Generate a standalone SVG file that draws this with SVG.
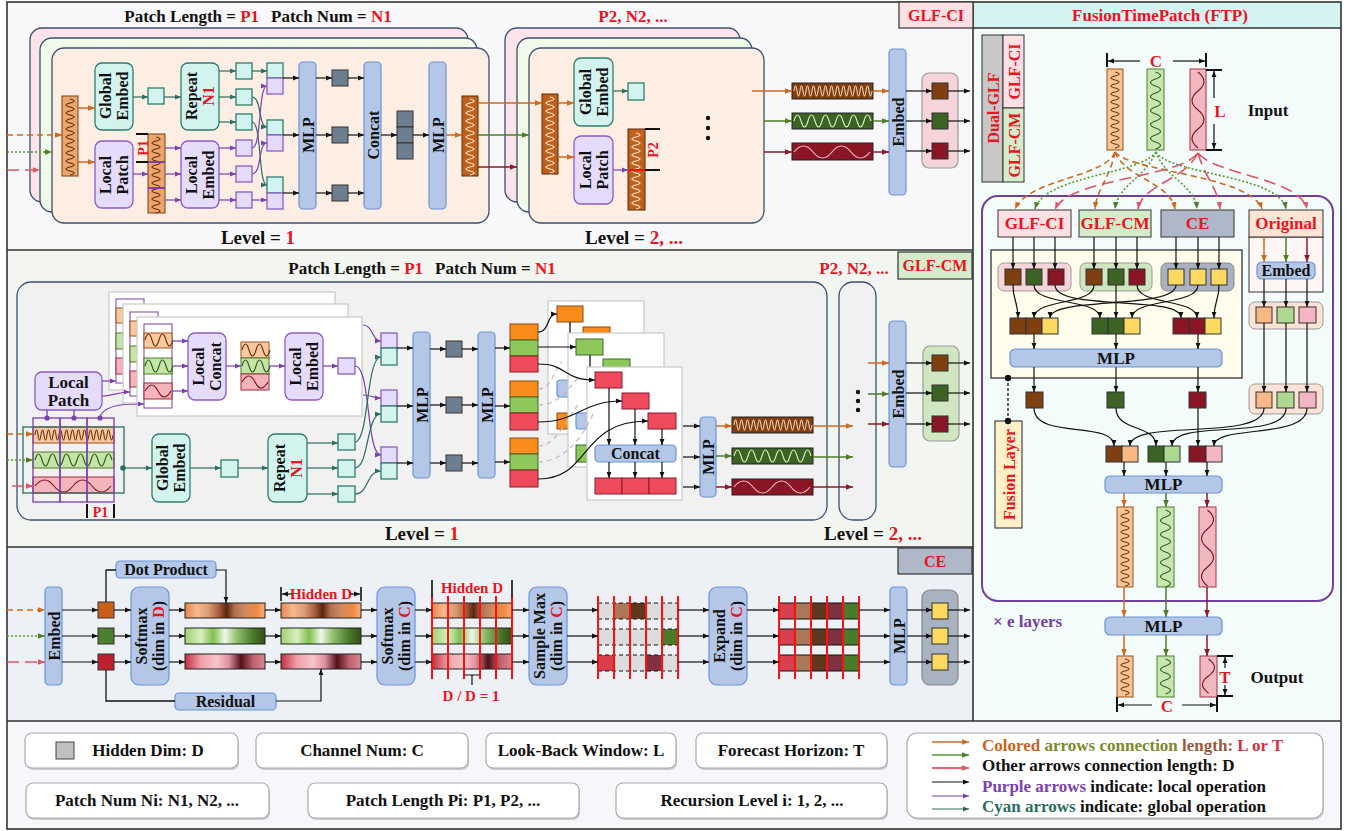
<svg xmlns="http://www.w3.org/2000/svg" width="1350" height="831" viewBox="0 0 1350 831">
<style>
text{font-family:"Liberation Serif","Times New Roman",serif;font-weight:bold;fill:#111;font-size:16px}
.m{text-anchor:middle}
.r{fill:#e8141e}
.s14{font-size:14px}
.s15{font-size:15px}
.s17{font-size:17px}
.s19{font-size:19px}
.tb{fill:#d3f3ee;stroke:#2e7d6e;stroke-width:1.3}
.pb{fill:#e4dcfa;stroke:#8a5cc8;stroke-width:1.3}
.bb{fill:#b4c7e7;stroke:#6c94d8;stroke-width:1.2}
.ds{fill:#6e7e91;stroke:#333;stroke-width:1}
.sq{stroke:#333;stroke-width:1}
.card{stroke:#3b5070;stroke-width:1.3}
.wc{fill:#fff;stroke:#c8c8c8;stroke-width:1.2}
.w{fill:none;stroke-width:1.1}
.ln{fill:none;stroke:#111;stroke-width:1.3}
.ak{fill:none;stroke:#111;stroke-width:1.2;marker-end:url(#mk)}
.at{fill:none;stroke:#2a6e60;stroke-width:1.2;marker-end:url(#mt)}
.ap{fill:none;stroke:#7a40b0;stroke-width:1.2;marker-end:url(#mp)}
.ao{fill:none;stroke:#d0691f;stroke-width:1.5;marker-end:url(#mo)}
.ag{fill:none;stroke:#4e7d2a;stroke-width:1.5;marker-end:url(#mg)}
.ad{fill:none;stroke:#8a1a2a;stroke-width:1.5;marker-end:url(#md)}
.do{fill:none;stroke:#d0691f;stroke-width:1.6;stroke-dasharray:6 4;marker-end:url(#mo)}
.dg{fill:none;stroke:#5a9a30;stroke-width:1.6;stroke-dasharray:2 2;marker-end:url(#mg)}
.dr{fill:none;stroke:#e05566;stroke-width:1.6;stroke-dasharray:12 6;marker-end:url(#mr)}
.gd{fill:none;stroke:#bbb;stroke-width:1.2;stroke-dasharray:5 4}
.lb{fill:#fff;stroke:#aaa;stroke-width:1.2}
.rl{stroke:#ff1010;stroke-width:2}
</style>
<defs>
<marker id="mk" viewBox="0 0 6 6" refX="6" refY="3" markerWidth="6" markerHeight="6" markerUnits="userSpaceOnUse" orient="auto"><path d="M0,0.6L6,3L0,5.4z" fill="#111"/></marker>
<marker id="mt" viewBox="0 0 6 6" refX="6" refY="3" markerWidth="6" markerHeight="6" markerUnits="userSpaceOnUse" orient="auto"><path d="M0,0.6L6,3L0,5.4z" fill="#2a6e60"/></marker>
<marker id="mp" viewBox="0 0 6 6" refX="6" refY="3" markerWidth="6" markerHeight="6" markerUnits="userSpaceOnUse" orient="auto"><path d="M0,0.6L6,3L0,5.4z" fill="#7a40b0"/></marker>
<marker id="mo" viewBox="0 0 6 6" refX="6" refY="3" markerWidth="7" markerHeight="7" markerUnits="userSpaceOnUse" orient="auto"><path d="M0,0.6L6,3L0,5.4z" fill="#d0691f"/></marker>
<marker id="mg" viewBox="0 0 6 6" refX="6" refY="3" markerWidth="7" markerHeight="7" markerUnits="userSpaceOnUse" orient="auto"><path d="M0,0.6L6,3L0,5.4z" fill="#4e7d2a"/></marker>
<marker id="md" viewBox="0 0 6 6" refX="6" refY="3" markerWidth="7" markerHeight="7" markerUnits="userSpaceOnUse" orient="auto"><path d="M0,0.6L6,3L0,5.4z" fill="#8a1a2a"/></marker>
<marker id="mr" viewBox="0 0 6 6" refX="6" refY="3" markerWidth="7" markerHeight="7" markerUnits="userSpaceOnUse" orient="auto"><path d="M0,0.6L6,3L0,5.4z" fill="#e05566"/></marker>
<path id="vz" d="M8,2q8,2 0,4t0,4t0,4t0,4t0,4t0,4t0,4t0,4t0,4t0,4t0,4t0,4t0,4t0,4t0,4t0,4t0,4t0,4t0,4"/>
<path id="vm" d="M8,3q10,3.5 0,7t0,7t0,7t0,7t0,7t0,7t0,7t0,7t0,7t0,7t0,7"/>
<path id="vl" d="M8,3q12,9.5 0,19t0,19t0,19t0,19"/>
<path id="vzs" d="M8,2q8,2 0,4t0,4t0,4t0,4t0,4t0,4t0,4t0,4t0,4"/>
<path id="vms" d="M8,2q10,3.5 0,7t0,7t0,7t0,7t0,7"/>
<path id="vls" d="M8,2q12,8.5 0,17t0,17"/>
<path id="hz" d="M2,8q1.5,-10 3,0t3,0t3,0t3,0t3,0t3,0t3,0t3,0t3,0t3,0t3,0t3,0t3,0t3,0t3,0t3,0t3,0t3,0t3,0t3,0t3,0t3,0t3,0t3,0t3,0t3,0"/>
<path id="hm" d="M2,8q3.5,-12 7,0t7,0t7,0t7,0t7,0t7,0t7,0t7,0t7,0t7,0t7,0"/>
<path id="hl" d="M2,8q9.5,-12 19,0t19,0t19,0t19,0"/>
<path id="sz" d="M1,8q1.5,-10 3,0t3,0t3,0t3,0t3,0t3,0t3,0t3,0t3,0"/>
<path id="sm" d="M1,8q3.5,-12 7,0t7,0t7,0t7,0"/>
<path id="sl" d="M1,9q7,-12 13,0t13,0"/>
<linearGradient id="gOr"><stop offset="0" stop-color="#e8874a"/><stop offset=".15" stop-color="#f5b890"/><stop offset=".3" stop-color="#d89870"/><stop offset=".42" stop-color="#a86040"/><stop offset=".52" stop-color="#5a2810"/><stop offset=".62" stop-color="#b07050"/><stop offset=".75" stop-color="#d08a60"/><stop offset=".9" stop-color="#f08a40"/><stop offset="1" stop-color="#f8b080"/></linearGradient>
<linearGradient id="gGr"><stop offset="0" stop-color="#a0d070"/><stop offset=".2" stop-color="#d8f0c0"/><stop offset=".35" stop-color="#80c050"/><stop offset=".5" stop-color="#f0f8e8"/><stop offset=".65" stop-color="#90c070"/><stop offset=".85" stop-color="#4a7a28"/><stop offset="1" stop-color="#305018"/></linearGradient>
<linearGradient id="gRd"><stop offset="0" stop-color="#c03040"/><stop offset=".2" stop-color="#f0a0a8"/><stop offset=".4" stop-color="#f8c4ca"/><stop offset=".55" stop-color="#e090a0"/><stop offset=".7" stop-color="#501018"/><stop offset=".85" stop-color="#c06070"/><stop offset="1" stop-color="#d88890"/></linearGradient>
</defs>

<!-- panels -->
<g id="panels">
<rect width="1350" height="831" fill="#fff"/>
<rect x="7" y="2" width="966" height="248" fill="#f8f7fa"/>
<rect x="7" y="250" width="966" height="297" fill="#f3f5f0"/>
<rect x="7" y="547" width="966" height="174" fill="#edf0f5"/>
<rect x="973" y="2" width="368" height="719" fill="#f3fbfb"/>
<rect x="973" y="2" width="368" height="26" fill="#d5f3f1"/>
<rect x="7" y="721" width="1334" height="108" fill="#f6f7fb"/>
<rect x="7" y="2" width="1334" height="827" fill="none" stroke="#333" stroke-width="1.6"/>
<path d="M7,250H973M7,547H973M7,721H1341M973,2V721M973,28H1341" stroke="#333" stroke-width="1.6" fill="none"/>
<rect x="899" y="2" width="74" height="26" fill="#fde0e3" stroke="#333" stroke-width="1.2"/>
<text x="936" y="21" class="m r">GLF-CI</text>
<rect x="898" y="252" width="74" height="27" fill="#d5eccb" stroke="#333" stroke-width="1.2"/>
<text x="935" y="271" class="m r">GLF-CM</text>
<rect x="898" y="548" width="74" height="26" fill="#aeb8c8" stroke="#333" stroke-width="1.2"/>
<text x="935" y="567" class="m r">CE</text>
<text x="1160" y="21" class="m r s17">FusionTimePatch (FTP)</text>
</g>

<!-- ================= GLF-CI ================= -->
<g id="ci-titles">
<text x="258" y="22" class="m s17">Patch Length = <tspan class="r">P1</tspan><tspan dx="12">Patch Num = </tspan><tspan class="r">N1</tspan></text>
<text x="633" y="22" class="m r s17">P2, N2, ...</text>
<text x="258" y="244" class="m s19">Level = <tspan class="r">1</tspan></text>
<text x="634" y="244" class="m s19">Level = <tspan class="r">2, ...</tspan></text>
</g>
<g id="ci-stack1">
<rect x="30" y="28" width="438" height="174" rx="12" fill="#fde4e8" class="card"/>
<rect x="40" y="38" width="437" height="174" rx="12" fill="#f0fae8" class="card"/>
<rect x="52" y="48" width="437" height="175" rx="12" fill="#fdeee3" class="card"/>
</g>
<g id="ci-stack2">
<rect x="505" y="28" width="235" height="174" rx="12" fill="#fde4e8" class="card"/>
<rect x="517" y="38" width="235" height="174" rx="12" fill="#f0fae8" class="card"/>
<rect x="529" y="48" width="235" height="175" rx="12" fill="#fdeee3" class="card"/>
</g>
<g id="ci-input">
<rect x="62" y="96" width="16" height="80" fill="#eba56e" stroke="#7a4010"/>
<use href="#vz" x="62" y="97" class="w" stroke="#6a3008"/>
</g>
<g id="ci-global-embed">
<rect x="95" y="63" width="38" height="67" rx="7" class="tb"/>
<text class="m" transform="translate(114,96) rotate(-90)"><tspan x="0" y="-3">Global</tspan><tspan x="0" y="14">Embed</tspan></text>
</g>
<g id="ci-local-patch">
<rect x="95" y="141" width="38" height="67" rx="7" class="pb"/>
<text class="m" transform="translate(114,175) rotate(-90)"><tspan x="0" y="-3">Local</tspan><tspan x="0" y="14">Patch</tspan></text>
</g>
<rect id="ci-gsq" x="148" y="88" width="16" height="16" class="tb"/>
<g id="ci-repeat">
<rect x="181" y="63" width="38" height="67" rx="7" class="tb"/>
<text class="m" transform="translate(200,96) rotate(-90)"><tspan x="0" y="-3">Repeat</tspan><tspan x="0" y="14" class="r">N1</tspan></text>
</g>
<g id="ci-patched">
<rect x="148" y="134" width="17" height="79" fill="#eba56e" stroke="#7a4010"/>
<use href="#vz" x="148" y="135" class="w" stroke="#6a3008"/>
<path d="M148,162H165M148,188H165" stroke="#7a40b0" stroke-width="2"/>
<path d="M136,134H148M136,162H148" stroke="#111" stroke-width="2"/>
<text class="m r s14" transform="translate(143,148) rotate(-90)" y="5">P1</text>
</g>
<g id="ci-local-embed">
<rect x="181" y="141" width="38" height="67" rx="7" class="pb"/>
<text class="m" transform="translate(200,175) rotate(-90)"><tspan x="0" y="-3">Local</tspan><tspan x="0" y="14">Embed</tspan></text>
</g>
<g id="ci-tokens">
<rect x="236" y="63" width="16" height="16" class="tb"/>
<rect x="236" y="89" width="16" height="16" class="tb"/>
<rect x="236" y="114" width="16" height="16" class="tb"/>
<rect x="236" y="140" width="16" height="16" class="pb"/>
<rect x="236" y="166" width="16" height="16" class="pb"/>
<rect x="236" y="192" width="16" height="16" class="pb"/>
<rect x="267" y="63" width="16" height="15" class="tb"/><rect x="267" y="78" width="16" height="16" class="pb"/>
<rect x="267" y="120" width="16" height="15" class="tb"/><rect x="267" y="135" width="16" height="16" class="pb"/>
<rect x="267" y="177" width="16" height="16" class="tb"/><rect x="267" y="193" width="16" height="16" class="pb"/>
</g>
<g id="ci-mlp1"><rect x="299" y="62" width="17" height="147" rx="4" class="bb"/><text class="m" transform="translate(307.5,135) rotate(-90)" y="6">MLP</text></g>
<g id="ci-hidden">
<rect x="332" y="70" width="16" height="16" class="ds"/>
<rect x="332" y="127" width="16" height="16" class="ds"/>
<rect x="332" y="185" width="16" height="16" class="ds"/>
</g>
<g id="ci-concat"><rect x="364" y="62" width="17" height="147" rx="4" class="bb"/><text class="m" transform="translate(372.5,135) rotate(-90)" y="6">Concat</text></g>
<g id="ci-stackd">
<rect x="397" y="111" width="16" height="16" class="ds"/>
<rect x="397" y="127" width="16" height="16" class="ds"/>
<rect x="397" y="143" width="16" height="16" class="ds"/>
</g>
<g id="ci-mlp2"><rect x="429" y="62" width="17" height="147" rx="4" class="bb"/><text class="m" transform="translate(437.5,135) rotate(-90)" y="6">MLP</text></g>
<g id="ci-out">
<rect x="462" y="96" width="16" height="80" fill="#c0601a" stroke="#5a2a08"/>
<use href="#vz" x="462" y="97" class="w" stroke="#fde8d8"/>
</g>
<!-- level 2 -->
<g id="ci2-input">
<rect x="542" y="94" width="16" height="80" fill="#c0601a" stroke="#5a2a08"/>
<use href="#vz" x="542" y="95" class="w" stroke="#fde8d8"/>
</g>
<g id="ci2-global-embed">
<rect x="574" y="58" width="39" height="68" rx="7" class="tb"/>
<text class="m" transform="translate(593.5,92) rotate(-90)"><tspan x="0" y="-3">Global</tspan><tspan x="0" y="14">Embed</tspan></text>
</g>
<rect id="ci2-gsq" x="628" y="83" width="16" height="17" class="tb"/>
<g id="ci2-local-patch">
<rect x="574" y="136" width="39" height="68" rx="7" class="pb"/>
<text class="m" transform="translate(593.5,170) rotate(-90)"><tspan x="0" y="-3">Local</tspan><tspan x="0" y="14">Patch</tspan></text>
</g>
<g id="ci2-patched">
<rect x="628" y="129" width="17" height="81" fill="#c0601a" stroke="#5a2a08"/>
<use href="#vz" x="628" y="131" class="w" stroke="#fde8d8"/>
<path d="M628,170H645" stroke="#ff1010" stroke-width="2"/>
<path d="M645,129H660M645,170H660" stroke="#111" stroke-width="2"/>
<text class="m r s14" transform="translate(653,150) rotate(-90)" y="5">P2</text>
</g>
<g id="ci2-dots"><circle cx="708" cy="118" r="2.2" fill="#111"/><circle cx="708" cy="128" r="2.2" fill="#111"/><circle cx="708" cy="138" r="2.2" fill="#111"/></g>
<g id="ci-waves">
<rect x="792" y="83" width="81" height="16" fill="#7f3f10" stroke="#222"/>
<use href="#hz" x="792" y="83" class="w" stroke="#f5d0b0"/>
<rect x="792" y="113" width="81" height="16" fill="#3c6324" stroke="#222"/>
<use href="#hm" x="792" y="113" class="w" stroke="#d8f0c0"/>
<rect x="792" y="143" width="81" height="17" fill="#8a1525" stroke="#222"/>
<use href="#hl" x="792" y="144" class="w" stroke="#f5c0c8"/>
</g>
<g id="ci-embed"><rect x="889" y="49" width="17" height="146" rx="4" class="bb"/><text class="m" transform="translate(897.5,122) rotate(-90)" y="6">Embed</text></g>
<g id="ci-result">
<rect x="922" y="73" width="36" height="95" rx="7" fill="#f5d5d9" stroke="#999" stroke-width="1.2"/>
<rect x="932" y="83" width="16" height="16" fill="#7f3f10" class="sq"/>
<rect x="932" y="113" width="16" height="16" fill="#3c6324" class="sq"/>
<rect x="932" y="143" width="16" height="16" fill="#8a1525" class="sq"/>
</g>

<!-- ================= GLF-CM ================= -->
<g id="cm-titles">
<text x="422" y="274" class="m s17">Patch Length = <tspan class="r">P1</tspan><tspan dx="12">Patch Num = </tspan><tspan class="r">N1</tspan></text>
<text x="854" y="274" class="m r s17">P2, N2, ...</text>
<text x="422" y="540" class="m s19">Level = <tspan class="r">1</tspan></text>
<text x="873" y="540" class="m s19">Level = <tspan class="r">2, ...</tspan></text>
</g>
<g id="cm-containers">
<rect x="17" y="282" width="810" height="238" rx="14" fill="#f0f1f0" class="card"/>
<rect x="839" y="282" width="37" height="238" rx="14" fill="#f0f1f0" class="card"/>
</g>
<g id="cm-patch-cards">
<rect x="109" y="292" width="226" height="98" class="wc"/>
<rect x="116" y="299" width="28" height="84" fill="#fff" stroke="#7a40b0"/>
<rect x="116" y="308" width="28" height="15" fill="#f8c9a0" stroke="#a0501a"/>
<rect x="116" y="333" width="28" height="16" fill="#c4e4a8" stroke="#4e7d2a"/>
<rect x="116" y="358" width="28" height="16" fill="#f4b4bc" stroke="#a02838"/>
<rect x="123" y="304" width="225" height="99" class="wc"/>
<rect x="130" y="312" width="28" height="84" fill="#fff" stroke="#7a40b0"/>
<rect x="130" y="321" width="28" height="15" fill="#f8c9a0" stroke="#a0501a"/>
<rect x="130" y="346" width="28" height="16" fill="#c4e4a8" stroke="#4e7d2a"/>
<rect x="130" y="371" width="28" height="16" fill="#f4b4bc" stroke="#a02838"/>
<rect x="137" y="317" width="225" height="99" class="wc"/>
<rect x="144" y="324" width="28" height="84" fill="#fff" stroke="#7a40b0"/>
<rect x="144" y="333" width="28" height="15" fill="#f8c9a0" stroke="#a0501a"/>
<use href="#sm" x="144" y="332" class="w" stroke="#6a3008"/>
<rect x="144" y="358" width="28" height="16" fill="#c4e4a8" stroke="#4e7d2a"/>
<use href="#sm" x="144" y="358" class="w" stroke="#2e5a18"/>
<rect x="144" y="383" width="28" height="16" fill="#f4b4bc" stroke="#a02838"/>
<use href="#sl" x="144" y="382" class="w" stroke="#7a1020"/>
</g>
<g id="cm-local-concat">
<rect x="188" y="333" width="38" height="67" rx="7" class="pb"/>
<text class="m" transform="translate(207,366.5) rotate(-90)"><tspan x="0" y="-3">Local</tspan><tspan x="0" y="14">Concat</tspan></text>
</g>
<g id="cm-concat-patch">
<rect x="241" y="342" width="28" height="16" fill="#f8c9a0" stroke="#a0501a"/>
<use href="#sm" x="241" y="342" class="w" stroke="#6a3008"/>
<rect x="241" y="358" width="28" height="16" fill="#c4e4a8" stroke="#4e7d2a"/>
<use href="#sm" x="241" y="358" class="w" stroke="#2e5a18"/>
<rect x="241" y="374" width="28" height="16" fill="#f4b4bc" stroke="#a02838"/>
<use href="#sl" x="241" y="373" class="w" stroke="#7a1020"/>
</g>
<g id="cm-local-embed">
<rect x="285" y="333" width="38" height="67" rx="7" class="pb"/>
<text class="m" transform="translate(304,366.5) rotate(-90)"><tspan x="0" y="-3">Local</tspan><tspan x="0" y="14">Embed</tspan></text>
</g>
<rect id="cm-lsq" x="338" y="358" width="17" height="16" class="pb"/>
<g id="cm-local-patch">
<rect x="35" y="372" width="67" height="38" rx="7" class="pb"/>
<text x="68.5" y="388" class="m s17">Local</text>
<text x="68.5" y="406" class="m s17">Patch</text>
</g>
<g id="cm-input">
<rect x="33" y="427" width="81" height="16" fill="#f8c9a0" stroke="#a0501a"/>
<use href="#hz" x="33" y="427" class="w" stroke="#6a3008"/>
<rect x="33" y="452" width="81" height="16" fill="#c4e4a8" stroke="#4e7d2a"/>
<use href="#hm" x="33" y="452" class="w" stroke="#2e5a18"/>
<rect x="33" y="477" width="81" height="16" fill="#f4b4bc" stroke="#a02838"/>
<use href="#hl" x="33" y="478" class="w" stroke="#7a1020"/>
<rect x="23" y="427" width="101" height="66" fill="none" stroke="#2a6e60" stroke-width="1.3"/>
<rect x="33" y="418" width="27" height="84" fill="none" stroke="#7a40b0" stroke-width="1.3"/>
<rect x="60" y="418" width="27" height="84" fill="none" stroke="#7a40b0" stroke-width="1.3"/>
<rect x="87" y="418" width="27" height="84" fill="none" stroke="#7a40b0" stroke-width="1.3"/>
<circle cx="47" cy="418" r="2.6" fill="#7a40b0"/><circle cx="74" cy="418" r="2.6" fill="#7a40b0"/><circle cx="100" cy="418" r="2.6" fill="#7a40b0"/>
<circle cx="123" cy="468" r="2.8" fill="#2a6e60"/>
<path d="M87,504V518M114,504V518" stroke="#111" stroke-width="2"/>
<text x="100.5" y="517" class="m r s14">P1</text>
</g>
<g id="cm-global-embed">
<rect x="152" y="434" width="38" height="68" rx="7" class="tb"/>
<text class="m" transform="translate(171,468) rotate(-90)"><tspan x="0" y="-3">Global</tspan><tspan x="0" y="14">Embed</tspan></text>
</g>
<rect id="cm-gsq" x="221" y="460" width="17" height="17" class="tb"/>
<g id="cm-repeat">
<rect x="268" y="434" width="39" height="68" rx="7" class="tb"/>
<text class="m" transform="translate(287.5,468) rotate(-90)"><tspan x="0" y="-3">Repeat</tspan><tspan x="0" y="14" class="r">N1</tspan></text>
</g>
<g id="cm-tokens">
<rect x="338" y="434" width="17" height="16" class="tb"/>
<rect x="338" y="460" width="17" height="17" class="tb"/>
<rect x="338" y="486" width="17" height="16" class="tb"/>
<rect x="381" y="333" width="16" height="15" class="pb"/><rect x="381" y="348" width="16" height="17" class="tb"/>
<rect x="381" y="390" width="16" height="16" class="pb"/><rect x="381" y="406" width="16" height="16" class="tb"/>
<rect x="381" y="447" width="16" height="16" class="pb"/><rect x="381" y="463" width="16" height="16" class="tb"/>
</g>
<g id="cm-mlp1"><rect x="413" y="332" width="17" height="146" rx="4" class="bb"/><text class="m" transform="translate(421.5,405) rotate(-90)" y="6">MLP</text></g>
<g id="cm-hidden">
<rect x="446" y="341" width="16" height="16" class="ds"/>
<rect x="446" y="397" width="16" height="16" class="ds"/>
<rect x="446" y="455" width="16" height="16" class="ds"/>
</g>
<g id="cm-mlp2"><rect x="478" y="332" width="17" height="146" rx="4" class="bb"/><text class="m" transform="translate(486.5,405) rotate(-90)" y="6">MLP</text></g>
<g id="cm-stacks">
<rect x="510" y="324" width="28" height="16" fill="#f98c1a" stroke="#8a4a10"/><rect x="510" y="340" width="28" height="16" fill="#8ec85a" stroke="#3a6a20"/><rect x="510" y="356" width="28" height="16" fill="#ef4b5d" stroke="#8a1a2a"/>
<rect x="510" y="381" width="28" height="16" fill="#f98c1a" stroke="#8a4a10"/><rect x="510" y="397" width="28" height="16" fill="#8ec85a" stroke="#3a6a20"/><rect x="510" y="413" width="28" height="17" fill="#ef4b5d" stroke="#8a1a2a"/>
<rect x="510" y="438" width="28" height="16" fill="#f98c1a" stroke="#8a4a10"/><rect x="510" y="454" width="28" height="16" fill="#8ec85a" stroke="#3a6a20"/><rect x="510" y="470" width="28" height="17" fill="#ef4b5d" stroke="#8a1a2a"/>
</g>
<g id="cm-card-a">
<rect x="548" y="301" width="96" height="133" class="wc"/>
<rect x="557" y="306" width="26" height="16" fill="#f98c1a" stroke="#8a4a10"/>
<path d="M570,322V333" class="ln"/>
<rect x="583" y="327" width="27" height="17" fill="#f98c1a" stroke="#8a4a10"/>
<rect x="557" y="380" width="30" height="17" rx="3" class="bb"/>
<rect x="557" y="413" width="30" height="16" fill="#f98c1a" stroke="#8a4a10"/>
</g>
<g id="cm-card-b">
<rect x="568" y="333" width="96" height="134" class="wc"/>
<rect x="576" y="339" width="27" height="16" fill="#8ec85a" stroke="#3a6a20"/>
<path d="M590,355V367" class="ln"/>
<rect x="603" y="359" width="27" height="17" fill="#8ec85a" stroke="#3a6a20"/>
<rect x="576" y="413" width="30" height="16" rx="3" class="bb"/>
<rect x="576" y="445" width="30" height="17" fill="#8ec85a" stroke="#3a6a20"/>
</g>
<g id="cm-card-c">
<rect x="587" y="367" width="95" height="133" class="wc"/>
<rect x="595" y="372" width="27" height="16" fill="#ef4b5d" stroke="#8a1a2a"/>
<rect x="622" y="393" width="27" height="16" fill="#ef4b5d" stroke="#8a1a2a"/>
<rect x="648" y="413" width="28" height="16" fill="#ef4b5d" stroke="#8a1a2a"/>
<rect x="595" y="445" width="81" height="17" rx="4" class="bb"/>
<text x="635.5" y="459" class="m">Concat</text>
<rect x="595" y="478" width="27" height="16" fill="#ef4b5d" stroke="#8a1a2a"/>
<rect x="622" y="478" width="27" height="16" fill="#ef4b5d" stroke="#8a1a2a"/>
<rect x="649" y="478" width="27" height="16" fill="#ef4b5d" stroke="#8a1a2a"/>
</g>
<g id="cm-mlp3"><rect x="700" y="417" width="16" height="80" rx="4" class="bb"/><text class="m" transform="translate(708,457) rotate(-90)" y="6">MLP</text></g>
<g id="cm-waves">
<rect x="732" y="417" width="81" height="16" fill="#7f3f10" stroke="#222"/>
<use href="#hz" x="732" y="417" class="w" stroke="#f5d0b0"/>
<rect x="732" y="448" width="81" height="16" fill="#3c6324" stroke="#222"/>
<use href="#hm" x="732" y="448" class="w" stroke="#d8f0c0"/>
<rect x="732" y="479" width="81" height="16" fill="#8a1525" stroke="#222"/>
<use href="#hl" x="732" y="479" class="w" stroke="#f5c0c8"/>
</g>
<g id="cm-dots"><circle cx="858" cy="392" r="2.2" fill="#111"/><circle cx="858" cy="401" r="2.2" fill="#111"/><circle cx="858" cy="410" r="2.2" fill="#111"/></g>
<g id="cm-embed"><rect x="889" y="321" width="17" height="146" rx="4" class="bb"/><text class="m" transform="translate(897.5,394) rotate(-90)" y="6">Embed</text></g>
<g id="cm-result">
<rect x="923" y="346" width="36" height="95" rx="7" fill="#cfe6c0" stroke="#999" stroke-width="1.2"/>
<rect x="932" y="355" width="16" height="16" fill="#7f3f10" class="sq"/>
<rect x="932" y="385" width="16" height="16" fill="#3c6324" class="sq"/>
<rect x="932" y="416" width="16" height="16" fill="#8a1525" class="sq"/>
</g>

<!-- ================= CE ================= -->
<g id="ce-embed"><rect x="45" y="587" width="17" height="98" rx="4" class="bb"/><text class="m" transform="translate(53.5,636) rotate(-90)" y="6">Embed</text></g>
<g id="ce-sq">
<rect x="98" y="602" width="16" height="16" fill="#c8601a" class="sq"/>
<rect x="98" y="628" width="16" height="16" fill="#4a8030" class="sq"/>
<rect x="98" y="654" width="16" height="16" fill="#c0202c" class="sq"/>
</g>
<g id="ce-dot"><rect x="116" y="561" width="100" height="17" rx="4" class="bb"/><text x="166" y="575" class="m">Dot Product</text></g>
<g id="ce-res"><rect x="175" y="693" width="101" height="17" rx="4" class="bb"/><text x="225.5" y="707" class="m">Residual</text></g>
<g id="ce-softd"><rect x="131" y="587" width="38" height="98" rx="8" class="bb"/>
<text class="m" transform="translate(150,636) rotate(-90)"><tspan x="0" y="-3">Softmax</tspan><tspan x="0" y="14">(dim in <tspan class="r">D</tspan>)</tspan></text></g>
<g id="ce-bars1">
<rect x="185" y="603" width="80" height="15" fill="url(#gOr)" stroke="#222"/>
<rect x="185" y="628" width="80" height="16" fill="url(#gGr)" stroke="#222"/>
<rect x="185" y="654" width="80" height="15" fill="url(#gRd)" stroke="#222"/>
</g>
<g id="ce-bars2">
<rect x="281" y="603" width="80" height="15" fill="url(#gOr)" stroke="#222"/>
<rect x="281" y="628" width="80" height="16" fill="url(#gGr)" stroke="#222"/>
<rect x="281" y="654" width="80" height="15" fill="url(#gRd)" stroke="#222"/>
<path d="M281,587V601M361,587V601" stroke="#111" stroke-width="1.6"/>
<text x="321" y="599" class="m r s15">Hidden D</text>
</g>
<g id="ce-softc"><rect x="377" y="587" width="38" height="98" rx="8" class="bb"/>
<text class="m" transform="translate(396,636) rotate(-90)"><tspan x="0" y="-3">Softmax</tspan><tspan x="0" y="14">(dim in <tspan class="r">C</tspan>)</tspan></text></g>
<g id="ce-bars3">
<rect x="432" y="603" width="80" height="15" fill="url(#gOr)" stroke="#222"/>
<rect x="432" y="628" width="80" height="16" fill="url(#gGr)" stroke="#222"/>
<rect x="432" y="654" width="80" height="15" fill="url(#gRd)" stroke="#222"/>
<path d="M432,596V679M448,596V679M464,596V679M480,596V679M496,596V679M512,596V679" class="rl"/>
<path d="M432,580V597M512,580V597" stroke="#111" stroke-width="1.6"/>
<text x="472" y="593" class="m r s15">Hidden D</text>
<path d="M465,675H479M472,675V685" stroke="#111" stroke-width="1.2"/>
<text x="471" y="701" class="m r s15">D / D = 1</text>
</g>
<g id="ce-sample"><rect x="529" y="587" width="38" height="98" rx="8" class="bb"/>
<text class="m" transform="translate(548,636) rotate(-90)"><tspan x="0" y="-3">Sample Max</tspan><tspan x="0" y="14">(dim in <tspan class="r">C</tspan>)</tspan></text></g>
<g id="ce-bars4">
<rect x="598" y="603" width="80" height="16" fill="#dcdcdc"/>
<rect x="614" y="603" width="16" height="16" fill="#a87858"/><rect x="630" y="603" width="16" height="16" fill="#603820"/>
<rect x="598" y="629" width="80" height="16" fill="#dcdcdc"/>
<rect x="662" y="629" width="16" height="16" fill="#4a7a2a"/>
<rect x="598" y="655" width="80" height="16" fill="#dcdcdc"/>
<rect x="598" y="655" width="16" height="16" fill="#d84050"/><rect x="646" y="655" width="16" height="16" fill="#803040"/>
<path d="M598,603H678M598,619H678M598,629H678M598,645H678M598,655H678M598,671H678" stroke="#111" stroke-width="1.1" stroke-dasharray="4 3"/>
<path d="M598,596V679M614,596V679M630,596V679M646,596V679M662,596V679M678,596V679" class="rl"/>
</g>
<g id="ce-expand"><rect x="709" y="587" width="38" height="98" rx="8" class="bb"/>
<text class="m" transform="translate(728,636) rotate(-90)"><tspan x="0" y="-3">Expand</tspan><tspan x="0" y="14">(dim in <tspan class="r">C</tspan>)</tspan></text></g>
<g id="ce-bars5">
<rect x="779" y="603" width="16" height="16" fill="#d84050"/><rect x="795" y="603" width="16" height="16" fill="#a87858"/><rect x="811" y="603" width="16" height="16" fill="#603820"/><rect x="827" y="603" width="16" height="16" fill="#803040"/><rect x="843" y="603" width="16" height="16" fill="#4a7a2a"/>
<rect x="779" y="629" width="16" height="16" fill="#d84050"/><rect x="795" y="629" width="16" height="16" fill="#a87858"/><rect x="811" y="629" width="16" height="16" fill="#603820"/><rect x="827" y="629" width="16" height="16" fill="#803040"/><rect x="843" y="629" width="16" height="16" fill="#4a7a2a"/>
<rect x="779" y="655" width="16" height="16" fill="#d84050"/><rect x="795" y="655" width="16" height="16" fill="#a87858"/><rect x="811" y="655" width="16" height="16" fill="#603820"/><rect x="827" y="655" width="16" height="16" fill="#803040"/><rect x="843" y="655" width="16" height="16" fill="#4a7a2a"/>
<path d="M779,603H859M779,619H859M779,629H859M779,645H859M779,655H859M779,671H859" stroke="#111" stroke-width="1.2"/>
<path d="M779,596V679M795,596V679M811,596V679M827,596V679M843,596V679M859,596V679" class="rl"/>
</g>
<g id="ce-mlp"><rect x="890" y="587" width="17" height="98" rx="4" class="bb"/><text class="m" transform="translate(898.5,636) rotate(-90)" y="6">MLP</text></g>
<g id="ce-result">
<rect x="922" y="590" width="36" height="95" rx="8" fill="#a9b2c0" stroke="#888" stroke-width="1.2"/>
<rect x="932" y="603" width="16" height="16" fill="#fcd960" class="sq"/>
<rect x="932" y="628" width="16" height="16" fill="#fcd960" class="sq"/>
<rect x="932" y="654" width="16" height="16" fill="#fcd960" class="sq"/>
</g>

<!-- ================= FTP ================= -->
<g id="ftp-dual">
<rect x="982" y="35" width="21" height="147" fill="#c8c8c8" stroke="#333"/>
<rect x="1003" y="35" width="21" height="73" fill="#fde0e3" stroke="#333"/>
<rect x="1003" y="108" width="21" height="74" fill="#d5eccb" stroke="#333"/>
<text class="m r" transform="translate(992.5,108) rotate(-90)" y="6">Dual-GLF</text>
<text class="m r" transform="translate(1013.5,71.5) rotate(-90)" y="6">GLF-CI</text>
<text class="m r" transform="translate(1013.5,145) rotate(-90)" y="6">GLF-CM</text>
</g>
<g id="ftp-input">
<rect x="1107" y="69" width="16" height="81" fill="#f6c598" stroke="#a0501a"/>
<use href="#vz" x="1107" y="70" class="w" stroke="#7a3a10"/>
<rect x="1147" y="69" width="17" height="81" fill="#c8e6b0" stroke="#4e8030"/>
<use href="#vm" x="1147.5" y="69" class="w" stroke="#2e5a18"/>
<rect x="1190" y="69" width="16" height="81" fill="#f2b8c0" stroke="#a83040"/>
<use href="#vl" x="1190" y="69" class="w" stroke="#7a1020"/>
<path d="M1107,53V67M1206,53V67M1206,70H1222M1206,150H1222" stroke="#111" stroke-width="2"/>
<path d="M1140,61H1108" class="ak"/><path d="M1173,61H1205" class="ak"/>
<path d="M1214,98V71" class="ak"/><path d="M1214,124V149" class="ak"/>
<text x="1156" y="67" class="m r s17">C</text>
<text x="1220" y="117" class="m r s17">L</text>
<text x="1268" y="116" class="m s17">Input</text>
</g>
<rect id="ftp-layer" x="982" y="196" width="351" height="405" rx="16" fill="none" stroke="#7040a0" stroke-width="2"/>
<g id="ftp-branch-ci"><rect x="998" y="210" width="73" height="27" fill="#fde0e3" stroke="#333"/><text x="1034.5" y="229" class="m r s17">GLF-CI</text></g>
<g id="ftp-branch-cm"><rect x="1079" y="210" width="72" height="27" fill="#d5eccb" stroke="#333"/><text x="1115" y="229" class="m r s17">GLF-CM</text></g>
<g id="ftp-branch-ce"><rect x="1161" y="210" width="73" height="27" fill="#aeb8c8" stroke="#333"/><text x="1197.5" y="229" class="m r s17">CE</text></g>
<g id="ftp-original">
<rect x="1249" y="237" width="74" height="55" fill="#fdf6f4" stroke="#333"/>
<rect x="1249" y="210" width="74" height="27" fill="#fde4d4" stroke="#333"/>
<text x="1286" y="229" class="m r s17">Original</text>
<rect x="1257" y="262" width="58" height="17" rx="5" class="bb"/>
<text x="1286" y="276" class="m">Embed</text>
</g>
<g id="ftp-fusion">
<rect x="991" y="250" width="251" height="128" fill="#fefdec" stroke="#222" stroke-width="1.2"/>
<rect x="998" y="263" width="73" height="28" rx="6" fill="#f5d5d9" stroke="#999"/>
<rect x="1005" y="269" width="16" height="16" fill="#7f3f10" class="sq"/><rect x="1026" y="269" width="16" height="16" fill="#3c6324" class="sq"/><rect x="1048" y="269" width="16" height="16" fill="#8a1525" class="sq"/>
<rect x="1080" y="263" width="72" height="28" rx="6" fill="#cfe6c0" stroke="#999"/>
<rect x="1086" y="269" width="16" height="16" fill="#7f3f10" class="sq"/><rect x="1108" y="269" width="16" height="16" fill="#3c6324" class="sq"/><rect x="1129" y="269" width="16" height="16" fill="#8a1525" class="sq"/>
<rect x="1161" y="263" width="73" height="28" rx="6" fill="#a9b2c0" stroke="#888"/>
<rect x="1168" y="269" width="16" height="16" fill="#fcd960" class="sq"/><rect x="1190" y="269" width="16" height="16" fill="#fcd960" class="sq"/><rect x="1211" y="269" width="16" height="16" fill="#fcd960" class="sq"/>
<rect x="1010" y="318" width="16" height="16" fill="#7f3f10" class="sq"/><rect x="1026" y="318" width="16" height="16" fill="#7f3f10" class="sq"/><rect x="1042" y="318" width="16" height="16" fill="#fcd960" class="sq"/>
<rect x="1092" y="318" width="16" height="16" fill="#3c6324" class="sq"/><rect x="1108" y="318" width="16" height="16" fill="#3c6324" class="sq"/><rect x="1124" y="318" width="16" height="16" fill="#fcd960" class="sq"/>
<rect x="1173" y="318" width="16" height="16" fill="#8a1525" class="sq"/><rect x="1189" y="318" width="16" height="16" fill="#8a1525" class="sq"/><rect x="1205" y="318" width="16" height="16" fill="#fcd960" class="sq"/>
<rect x="1010" y="349" width="212" height="18" rx="5" class="bb"/>
<text x="1116" y="364" class="m s17">MLP</text>
</g>
<g id="ftp-branch-out">
<rect x="1026" y="392" width="17" height="16" fill="#7f3f10" class="sq"/>
<rect x="1107" y="392" width="17" height="16" fill="#3c6324" class="sq"/>
<rect x="1189" y="392" width="17" height="16" fill="#8a1525" class="sq"/>
</g>
<g id="ftp-orig-tokens">
<rect x="1249" y="302" width="74" height="27" rx="6" fill="#fae3d5" stroke="#999"/>
<rect x="1256" y="307" width="16" height="16" fill="#f7b886" class="sq"/><rect x="1277" y="307" width="17" height="16" fill="#acd890" class="sq"/><rect x="1299" y="307" width="17" height="16" fill="#f4b6c4" class="sq"/>
<rect x="1249" y="384" width="74" height="30" rx="6" fill="#fae3d5" stroke="#999"/>
<rect x="1256" y="392" width="16" height="16" fill="#f7b886" class="sq"/><rect x="1277" y="392" width="17" height="16" fill="#acd890" class="sq"/><rect x="1299" y="392" width="17" height="16" fill="#f4b6c4" class="sq"/>
</g>
<g id="ftp-fusion-layer">
<rect x="995" y="421" width="27" height="107" fill="#fef0c8" stroke="#222"/>
<text class="m r" transform="translate(1008.5,474.5) rotate(-90)" y="6">Fusion Layer</text>
</g>
<g id="ftp-pairs">
<rect x="1106" y="446" width="16" height="16" fill="#7f3f10" class="sq"/><rect x="1122" y="446" width="16" height="16" fill="#f7b886" class="sq"/>
<rect x="1148" y="446" width="16" height="16" fill="#3c6324" class="sq"/><rect x="1164" y="446" width="16" height="16" fill="#acd890" class="sq"/>
<rect x="1189" y="446" width="17" height="16" fill="#8a1525" class="sq"/><rect x="1206" y="446" width="16" height="16" fill="#f4b6c4" class="sq"/>
</g>
<g id="ftp-mlp1"><rect x="1105" y="476" width="117" height="17" rx="5" class="bb"/><text x="1163.5" y="490" class="m s17">MLP</text></g>
<g id="ftp-mid">
<rect x="1117" y="507" width="16" height="80" fill="#f6c598" stroke="#a0501a"/>
<use href="#vz" x="1117" y="508" class="w" stroke="#7a3a10"/>
<rect x="1157" y="507" width="17" height="80" fill="#c8e6b0" stroke="#4e8030"/>
<use href="#vm" x="1157.5" y="507" class="w" stroke="#2e5a18"/>
<rect x="1199" y="507" width="17" height="80" fill="#f2b8c0" stroke="#a83040"/>
<use href="#vl" x="1199.5" y="507" class="w" stroke="#7a1020"/>
</g>
<text x="993" y="627" class="s17" style="fill:#7040a0">× e layers</text>
<g id="ftp-mlp2"><rect x="1105" y="617" width="117" height="18" rx="5" class="bb"/><text x="1163.5" y="632" class="m s17">MLP</text></g>
<g id="ftp-output">
<rect x="1117" y="656" width="16" height="41" fill="#f6c598" stroke="#a0501a"/>
<use href="#vzs" x="1117" y="657" class="w" stroke="#7a3a10"/>
<rect x="1157" y="656" width="17" height="41" fill="#c8e6b0" stroke="#4e8030"/>
<use href="#vms" x="1157.5" y="657" class="w" stroke="#2e5a18"/>
<rect x="1200" y="656" width="17" height="41" fill="#f2b8c0" stroke="#a83040"/>
<use href="#vls" x="1200.5" y="657" class="w" stroke="#7a1020"/>
<path d="M1217,656H1233M1217,696H1233M1117,697V712M1217,697V712" stroke="#111" stroke-width="2"/>
<path d="M1225,668V657" class="ak"/><path d="M1225,685V695" class="ak"/>
<path d="M1152,705H1118" class="ak"/><path d="M1182,705H1216" class="ak"/>
<text x="1225" y="683" class="m r s17">T</text>
<text x="1167" y="712" class="m r s17">C</text>
<text x="1277" y="683" class="m s17">Output</text>
</g>

<!-- ================= Legend ================= -->
<g id="legend">
<rect x="26" y="735" width="213" height="35" rx="7" fill="#ccc"/><rect x="25" y="733" width="213" height="35" rx="7" class="lb"/>
<rect x="56" y="742" width="18" height="17" fill="#c0c0c0" stroke="#444"/>
<text x="148" y="756" class="m s17">Hidden Dim: D</text>
<rect x="257" y="735" width="212" height="35" rx="7" fill="#ccc"/><rect x="256" y="733" width="212" height="35" rx="7" class="lb"/>
<text x="362" y="756" class="m s17">Channel Num: C</text>
<rect x="487" y="735" width="190" height="35" rx="7" fill="#ccc"/><rect x="486" y="733" width="190" height="35" rx="7" class="lb"/>
<text x="581" y="756" class="m s17">Look-Back Window: L</text>
<rect x="697" y="735" width="191" height="35" rx="7" fill="#ccc"/><rect x="696" y="733" width="191" height="35" rx="7" class="lb"/>
<text x="791" y="756" class="m s17">Forecast Horizon: T</text>
<rect x="27" y="785" width="243" height="35" rx="7" fill="#ccc"/><rect x="26" y="783" width="243" height="35" rx="7" class="lb"/>
<text x="147" y="806" class="m s17">Patch Num Ni: N1, N2, ...</text>
<rect x="309" y="785" width="271" height="35" rx="7" fill="#ccc"/><rect x="308" y="783" width="271" height="35" rx="7" class="lb"/>
<text x="443" y="806" class="m s17">Patch Length Pi: P1, P2, ...</text>
<rect x="617" y="785" width="271" height="35" rx="7" fill="#ccc"/><rect x="616" y="783" width="271" height="35" rx="7" class="lb"/>
<text x="752" y="806" class="m s17">Recursion Level i: 1, 2, ...</text>
<rect x="908" y="735" width="416" height="85" rx="10" fill="#ccc"/><rect x="907" y="733" width="416" height="85" rx="10" class="lb"/>
<path d="M932,742H969" class="ao"/>
<path d="M932,755H969" fill="none" stroke="#5a9a30" stroke-width="1.5" marker-end="url(#mg)"/>
<path d="M932,768H969" fill="none" stroke="#e03040" stroke-width="1.5" marker-end="url(#mr)"/>
<path d="M932,782H969" class="ak"/>
<path d="M932,796H969" class="ap"/>
<path d="M932,809H969" class="at"/>
<text x="982" y="751" class="s17"><tspan style="fill:#c8641e">Colored</tspan> <tspan style="fill:#7c8a2c">arrows connection</tspan> <tspan style="fill:#9c5a3c">length:</tspan> <tspan style="fill:#d83040">L or T</tspan></text>
<text x="982" y="771" class="s17">Other arrows connection length: D</text>
<text x="982" y="792" class="s17"><tspan style="fill:#7a40b0">Purple arrows</tspan> indicate: local operation</text>
<text x="982" y="812" class="s17"><tspan style="fill:#2a6e60">Cyan arrows</tspan> indicate: global operation</text>
</g>

<!-- ================= Connectors ================= -->
<g id="connectors">
<!-- GLF-CI -->
<path d="M7,135H62" class="do"/>
<path d="M7,152H52" class="dg"/>
<path d="M7,170H40" class="dr"/>
<path d="M78,108H95" class="ao"/>
<path d="M78,162H95" class="ao"/>
<path d="M133,97H148" class="at"/>
<path d="M164,97H181" class="at"/>
<path d="M133,174H148" class="ap"/>
<path d="M165,148H181" class="ap"/><path d="M165,174H181" class="ap"/><path d="M165,200H181" class="ap"/>
<path d="M219,71H236" class="at"/><path d="M219,97H236" class="at"/><path d="M219,122H236" class="at"/>
<path d="M219,148H236" class="ap"/><path d="M219,174H236" class="ap"/><path d="M219,200H236" class="ap"/>
<path d="M252,71H267" class="at"/>
<path d="M252,97C262,97 258,127 267,127" class="at"/>
<path d="M252,122C262,122 258,185 267,185" class="at"/>
<path d="M252,148C262,148 258,86 267,86" class="ap"/>
<path d="M252,174C262,174 258,143 267,143" class="ap"/>
<path d="M252,200H267" class="ap"/>
<path d="M283,78H299" class="ak"/><path d="M283,135H299" class="ak"/><path d="M283,193H299" class="ak"/>
<path d="M316,78H332" class="ak"/><path d="M316,135H332" class="ak"/><path d="M316,193H332" class="ak"/>
<path d="M348,78H364" class="ak"/><path d="M348,135H364" class="ak"/><path d="M348,193H364" class="ak"/>
<path d="M381,135H397" class="ak"/><path d="M413,135H429" class="ak"/>
<path d="M446,135H462" class="ao"/>
<path d="M478,103H542" class="ao"/>
<path d="M478,135H529" class="ag"/>
<path d="M478,167H517" class="ad"/>
<path d="M558,103H574" class="ao"/>
<path d="M558,157H574" class="ao"/>
<path d="M613,91H628" class="at"/>
<path d="M613,170H628" class="ap"/>
<path d="M752,91H792" class="ao"/>
<path d="M764,121H792" class="ag"/>
<path d="M764,152H792" class="ad"/>
<path d="M873,91H889" class="ao"/><path d="M873,121H889" class="ag"/><path d="M873,152H889" class="ad"/>
<path d="M906,91H932" class="ak"/><path d="M906,121H932" class="ak"/><path d="M906,151H932" class="ak"/>
<path d="M948,91H970" class="ak"/><path d="M948,121H970" class="ak"/><path d="M948,151H970" class="ak"/>
<!-- GLF-CM -->
<path d="M7,434H33" class="do"/>
<path d="M7,460H33" class="dg"/>
<path d="M12,486H33" class="dr"/>
<path d="M47,416V410M74,416V410" stroke="#7a40b0" stroke-width="1.3"/>
<path d="M102,381H116" class="ap"/>
<path d="M102,396C112,396 118,392 130,392" class="ap"/>
<path d="M100,416C106,404 126,404 144,404" class="ap"/>
<path d="M172,341H188" class="ap"/><path d="M172,366H188" class="ap"/><path d="M172,391H188" class="ap"/>
<path d="M226,366H241" class="ap"/>
<path d="M269,366H285" class="ap"/>
<path d="M323,366H338" class="ap"/>
<path d="M363,325C373,325 372,341 381,341" class="ap"/>
<path d="M363,395C372,395 372,398 381,398" class="ap"/>
<path d="M355,366C371,366 366,455 381,455" class="ap"/>
<path d="M125,468H152" class="at"/>
<path d="M190,468H221" class="at"/>
<path d="M238,468H268" class="at"/>
<path d="M307,443H338" class="at"/><path d="M307,468H338" class="at"/><path d="M307,494H338" class="at"/>
<path d="M355,442C369,442 366,357 381,357" class="at"/>
<path d="M355,468C369,468 366,414 381,414" class="at"/>
<path d="M355,494C369,494 366,471 381,471" class="at"/>
<path d="M397,348H413" class="ak"/><path d="M397,406H413" class="ak"/><path d="M397,463H413" class="ak"/>
<path d="M430,349H446" class="ak"/><path d="M430,405H446" class="ak"/><path d="M430,463H446" class="ak"/>
<path d="M462,349H478" class="ak"/><path d="M462,405H478" class="ak"/><path d="M462,463H478" class="ak"/>
<path d="M495,348H510" class="ak"/><path d="M495,406H510" class="ak"/><path d="M495,462H510" class="ak"/>
<path d="M538,389C552,389 552,372 562,362" class="gd"/>
<path d="M538,405C556,405 566,392 578,378" class="gd"/>
<path d="M538,446C556,446 566,420 578,405" class="gd"/>
<path d="M538,462C562,462 582,440 594,412" class="gd"/>
<path d="M538,332C550,332 546,314 557,314" class="ak"/>
<path d="M538,347H576" class="ak"/>
<path d="M538,364C568,364 562,380 595,380" class="ak"/>
<path d="M538,422C578,422 582,401 622,401" class="ak"/>
<path d="M538,479C592,479 578,421 648,421" class="ak"/>
<path d="M609,388V445" class="ak"/><path d="M635,409V445" class="ak"/><path d="M662,429V445" class="ak"/>
<path d="M609,462V478" class="ak"/><path d="M635,462V478" class="ak"/><path d="M662,462V478" class="ak"/>
<path d="M683,426H700" class="ak"/><path d="M683,457H700" class="ak"/><path d="M683,487H700" class="ak"/>
<path d="M716,426H732" class="ao"/><path d="M716,456H732" class="ag"/><path d="M716,487H732" class="ad"/>
<path d="M813,426H853" class="ao"/><path d="M813,457H853" class="ag"/><path d="M813,487H853" class="ad"/>
<path d="M868,363H889" class="ao"/><path d="M868,394H889" class="ag"/><path d="M868,424H889" class="ad"/>
<path d="M906,363H932" class="ak"/><path d="M906,393H932" class="ak"/><path d="M906,424H932" class="ak"/>
<path d="M948,363H970" class="ak"/><path d="M948,393H970" class="ak"/><path d="M948,424H970" class="ak"/>
<!-- CE -->
<path d="M7,610H45" class="do"/>
<path d="M7,636H45" class="dg"/>
<path d="M7,662H45" class="dr"/>
<path d="M62,610H98" class="ak"/><path d="M62,636H98" class="ak"/><path d="M62,662H98" class="ak"/>
<path d="M106,602V570H116" class="ln"/>
<path d="M216,570H226V603" class="ak"/>
<path d="M106,670V701H175" class="ln"/>
<path d="M276,701H321V669" class="ak"/>
<path d="M114,610H131" class="ak"/><path d="M114,636H131" class="ak"/><path d="M114,662H131" class="ak"/>
<path d="M169,610H185" class="ak"/><path d="M169,636H185" class="ak"/><path d="M169,662H185" class="ak"/>
<path d="M265,610H281" class="ak"/><path d="M265,636H281" class="ak"/><path d="M265,662H281" class="ak"/>
<path d="M292,594H282" class="ak"/><path d="M350,594H360" class="ak"/>
<path d="M361,610H377" class="ak"/><path d="M361,636H377" class="ak"/><path d="M361,662H377" class="ak"/>
<path d="M415,610H432" class="ak"/><path d="M415,636H432" class="ak"/><path d="M415,662H432" class="ak"/>
<path d="M512,610H529" class="ak"/><path d="M512,636H529" class="ak"/><path d="M512,662H529" class="ak"/>
<path d="M567,610H598" class="ak"/><path d="M567,636H598" class="ak"/><path d="M567,662H598" class="ak"/>
<path d="M678,610H709" class="ak"/><path d="M678,636H709" class="ak"/><path d="M678,662H709" class="ak"/>
<path d="M747,610H779" class="ak"/><path d="M747,636H779" class="ak"/><path d="M747,662H779" class="ak"/>
<path d="M859,610H890" class="ak"/><path d="M859,636H890" class="ak"/><path d="M859,662H890" class="ak"/>
<path d="M907,610H932" class="ak"/><path d="M907,636H932" class="ak"/><path d="M907,662H932" class="ak"/>
<path d="M948,610H970" class="ak"/><path d="M948,636H970" class="ak"/><path d="M948,662H970" class="ak"/>
<!-- FTP -->
<path d="M1115,152C1105,178 1030,178 1015,209" class="do"/>
<path d="M1115,152C1110,178 1097,188 1095,209" class="do"/>
<path d="M1115,152C1125,178 1170,182 1175,209" class="do"/>
<path d="M1115,152C1130,172 1250,175 1262,209" class="do"/>
<path d="M1156,152C1140,175 1045,175 1035,209" class="dg"/>
<path d="M1156,152C1145,178 1118,185 1115,209" class="dg"/>
<path d="M1156,152C1165,178 1195,185 1197,209" class="dg"/>
<path d="M1156,152C1170,175 1280,175 1286,209" class="dg"/>
<path d="M1198,153C1180,178 1070,178 1055,209" class="dr"/>
<path d="M1198,153C1185,180 1142,185 1138,209" class="dr"/>
<path d="M1198,153C1205,178 1218,188 1220,209" class="dr"/>
<path d="M1198,153C1215,175 1300,178 1307,209" class="dr"/>
<path d="M1013,237V269" class="ak"/><path d="M1034,237V269" class="ak"/><path d="M1055,237V269" class="ak"/>
<path d="M1094,237V269" class="ak"/><path d="M1116,237V269" class="ak"/><path d="M1137,237V269" class="ak"/>
<path d="M1176,237V269" class="ak"/><path d="M1198,237V269" class="ak"/><path d="M1219,237V269" class="ak"/>
<path d="M1264,237V262" class="ao"/><path d="M1286,237V262" class="ag"/><path d="M1307,237V262" class="ad"/>
<path d="M1013,285C1013,302 1018,300 1018,318" class="ak"/>
<path d="M1094,285C1094,306 1034,298 1034,318" class="ak"/>
<path d="M1176,285C1176,310 1050,296 1050,318" class="ak"/>
<path d="M1034,285C1034,306 1100,298 1100,318" class="ak"/>
<path d="M1116,285V318" class="ak"/>
<path d="M1198,285C1198,306 1132,298 1132,318" class="ak"/>
<path d="M1055,285C1055,312 1181,294 1181,318" class="ak"/>
<path d="M1137,285C1137,306 1197,298 1197,318" class="ak"/>
<path d="M1219,285C1219,302 1214,300 1214,318" class="ak"/>
<path d="M1034,334V349" class="ak"/><path d="M1116,334V349" class="ak"/><path d="M1198,334V349" class="ak"/>
<path d="M1034,367V392" class="ak"/><path d="M1116,367V392" class="ak"/><path d="M1198,367V392" class="ak"/>
<path d="M1264,279V307" class="ak"/><path d="M1286,279V307" class="ak"/><path d="M1307,279V307" class="ak"/>
<path d="M1264,323V392" class="ak"/><path d="M1286,323V392" class="ak"/><path d="M1307,323V392" class="ak"/>
<circle cx="1008" cy="378" r="3.2" fill="#111"/>
<path d="M1008,378V421" stroke="#111" stroke-width="1.3" stroke-dasharray="3 2"/>
<circle cx="1008" cy="421" r="3.2" fill="#111"/>
<path d="M1034,408C1034,440 1114,420 1114,446" class="ak"/>
<path d="M1116,408C1116,432 1156,424 1156,446" class="ak"/>
<path d="M1198,408V446" class="ak"/>
<path d="M1264,408C1264,442 1130,418 1130,446" class="ak"/>
<path d="M1286,408C1286,442 1172,418 1172,446" class="ak"/>
<path d="M1307,408C1307,440 1214,424 1214,446" class="ak"/>
<path d="M1124,462V476" class="ak"/><path d="M1166,462V476" class="ak"/><path d="M1207,462V476" class="ak"/>
<path d="M1124,493V507" class="ao"/><path d="M1166,493V507" class="ag"/><path d="M1207,493V507" class="ad"/>
<path d="M1124,587V617" class="ao"/><path d="M1166,587V617" class="ag"/><path d="M1207,587V617" class="ad"/>
<path d="M1124,635V656" class="ao"/><path d="M1166,635V656" class="ag"/><path d="M1207,635V656" class="ad"/>
</g>
</svg>
